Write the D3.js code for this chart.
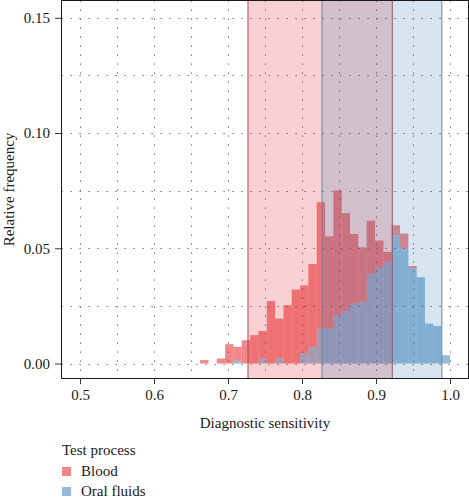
<!DOCTYPE html>
<html>
<head>
<meta charset="utf-8">
<script src="https://cdn.jsdelivr.net/npm/d3@7"></script>
<style>
  html, body { margin: 0; padding: 0; background: #fff; }
  svg { display: block; }
  text { font-family: "Liberation Serif", "DejaVu Serif", serif; fill: #1a1a1a; }
</style>
</head>
<body>
<svg id="chart" width="469" height="500"></svg>
<script>
// ---- data ----
const binLower = [0.6623,0.6736,0.6848,0.6961,0.7073,0.7186,0.7299,0.7411,0.7524,0.7636,
                  0.7749,0.7861,0.7974,0.8086,0.8199,0.8312,0.8424,0.8537,0.8649,0.8762,
                  0.8874,0.8987,0.9100,0.9212,0.9325,0.9437,0.9550,0.9662,0.9775,0.9887];
const binUpper = [0.6736,0.6848,0.6961,0.7073,0.7186,0.7299,0.7411,0.7524,0.7636,0.7749,
                  0.7861,0.7974,0.8086,0.8199,0.8312,0.8424,0.8537,0.8649,0.8762,0.8874,
                  0.8987,0.9100,0.9212,0.9325,0.9437,0.9550,0.9662,0.9775,0.9887,1.0000];
const blood = [0.0015,0,0.0022,0.0084,0.0060,0.0101,0.0123,0.0119,0.0271,0.0173,
               0.0253,0.0321,0.0294,0.0360,0.0548,0.0400,0.0543,0.0425,0.0302,0.0236,
               0.0230,0.0115,0.0044,0.0044,0.0065,0.0011,0,0,0,0];
const oral  = [0,0,0,0,0.0012,0,0,0.0022,0,0.0022,
               0,0,0.0045,0.0072,0.0152,0.0152,0.0208,0.0228,0.0260,0.0268,
               0.0390,0.0418,0.0440,0.0556,0.0499,0.0412,0.0375,0.0173,0.0163,0.0036];
const seriesNames = ["Blood", "Oral fluids"];
const bandBlood = [0.727, 0.922];
const bandOral  = [0.827, 0.989];
const xTicks = [0.5, 0.6, 0.7, 0.8, 0.9, 1.0];
const xTickLabels = ["0.5", "0.6", "0.7", "0.8", "0.9", "1.0"];
const yTicks = [0, 0.05, 0.10, 0.15];
const yTickLabels = ["0.00", "0.05", "0.10", "0.15"];
const xGrid = [0.5,0.55,0.6,0.65,0.7,0.75,0.8,0.85,0.9,0.95,1.0];
const yGrid = [0,0.025,0.05,0.075,0.1,0.125,0.15];

// ---- layout ----
const P = { left: 61.5, right: 468.5, top: 0.5, bottom: 378.5 };
const colors = { "Blood": "#E41A1C", "Oral fluids": "#377EB8" };

const svg = d3.select("#chart");
const x = d3.scaleLinear().domain([0.475, 1.025]).range([P.left, P.right]);
const y = d3.scaleLinear().domain([-0.0065, 0.1575]).range([P.bottom, P.top]);

const rows = binLower.map((lo, i) => ({ lo, hi: binUpper[i], "Blood": blood[i], "Oral fluids": oral[i] }));
const stacked = d3.stack().keys(["Oral fluids", "Blood"])(rows);

svg.append("clipPath").attr("id", "clipP").append("rect")
  .attr("x", P.left).attr("y", P.top).attr("width", P.right - P.left).attr("height", P.bottom - P.top);

const plot = svg.append("g").attr("clip-path", "url(#clipP)");

// grid
plot.append("g").selectAll("line").data(xGrid).join("line")
  .attr("x1", d => Math.round(x(d)) + 0.5).attr("x2", d => Math.round(x(d)) + 0.5)
  .attr("y1", P.top).attr("y2", P.bottom)
  .attr("stroke", "#555").attr("stroke-width", 1).attr("stroke-dasharray", "1.2 7.8");
plot.append("g").selectAll("line").data(yGrid).join("line")
  .attr("y1", d => Math.round(y(d)) + 0.5).attr("y2", d => Math.round(y(d)) + 0.5)
  .attr("x1", P.left).attr("x2", P.right)
  .attr("stroke", "#555").attr("stroke-width", 1).attr("stroke-dasharray", "1.2 7.8");

// bars
plot.append("g").selectAll("g").data(stacked).join("g")
  .attr("fill", s => colors[s.key]).attr("fill-opacity", 0.52)
  .selectAll("rect").data(s => s).join("rect")
  .attr("x", d => x(d.data.lo))
  .attr("width", d => x(d.data.hi) - x(d.data.lo))
  .attr("y", d => y(d[1]))
  .attr("height", d => Math.max(0, y(d[0]) - y(d[1])));

// bands
const bands = [{ k: "Blood", r: bandBlood, stroke: "#a04f58" }, { k: "Oral fluids", r: bandOral, stroke: "#6a87a8" }];
plot.append("g").selectAll("rect").data(bands).join("rect")
  .attr("x", d => x(d.r[0])).attr("width", d => x(d.r[1]) - x(d.r[0]))
  .attr("y", P.top - 2).attr("height", P.bottom - P.top + 4)
  .attr("fill", d => colors[d.k]).attr("fill-opacity", 0.2)
  .attr("stroke", d => d.stroke).attr("stroke-width", 1);

// panel border
svg.append("rect").attr("x", P.left).attr("y", P.top)
  .attr("width", P.right - P.left).attr("height", P.bottom - P.top)
  .attr("fill", "none").attr("stroke", "#1a1a1a").attr("stroke-width", 1);

// axes
const yAxis = d3.axisLeft(y).tickValues(yTicks).tickFormat((d, i) => yTickLabels[i]).tickSize(6).tickPadding(5);
const gy = svg.append("g").attr("transform", `translate(${P.left - 0.5},0)`).call(yAxis);
gy.select(".domain").remove();
gy.selectAll("line").attr("stroke", "#333");
gy.selectAll("text").style("font-size", "15px").attr("fill", "#1a1a1a");

const xAxis = d3.axisBottom(x).tickValues(xTicks).tickFormat((d, i) => xTickLabels[i]).tickSize(6).tickPadding(5);
const gx = svg.append("g").attr("transform", `translate(0,${P.bottom - 0.5})`).call(xAxis);
gx.select(".domain").remove();
gx.selectAll("line").attr("stroke", "#333");
gx.selectAll("text").style("font-size", "15px").attr("fill", "#1a1a1a");

// axis titles
svg.append("text").attr("x", (P.left + P.right) / 2).attr("y", 428)
  .attr("text-anchor", "middle").style("font-size", "15px").text("Diagnostic sensitivity");
svg.append("text").attr("transform", `translate(14,${(P.top + P.bottom) / 2}) rotate(-90)`)
  .attr("text-anchor", "middle").style("font-size", "15px").text("Relative frequency");

// legend
const lg = svg.append("g");
lg.append("text").attr("x", 62).attr("y", 455).style("font-size", "15px").text("Test process");
const items = lg.selectAll("g").data(seriesNames).join("g")
  .attr("transform", (d, i) => `translate(62,${467 + i * 20})`);
items.append("rect").attr("width", 9).attr("height", 9)
  .attr("fill", d => colors[d]).attr("fill-opacity", 0.52);
items.append("text").attr("x", 19).attr("y", 9).style("font-size", "15px").text(d => d);
</script>
</body>
</html>
